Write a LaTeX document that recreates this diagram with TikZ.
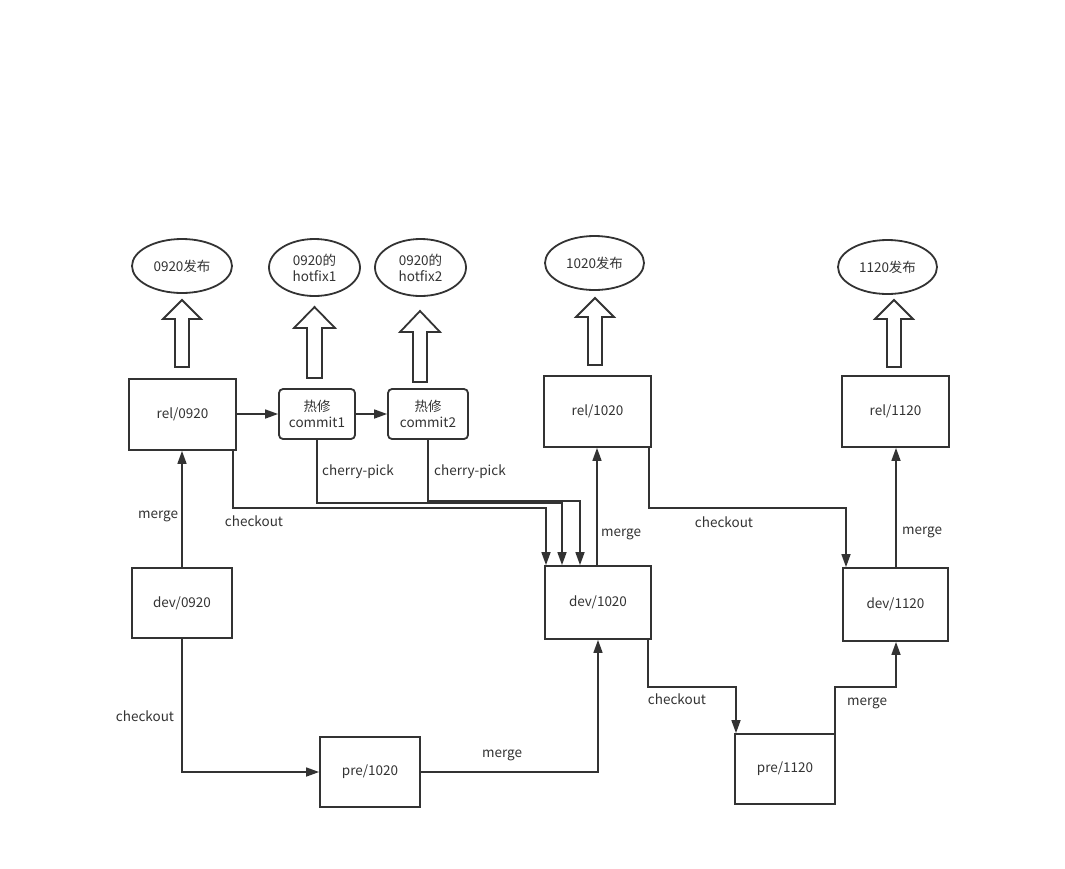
\documentclass[tikz,border=0pt]{standalone}
\usepackage{fontspec}
\setmainfont{Noto Sans CJK SC}
\usetikzlibrary{shapes.geometric,arrows.meta}
\definecolor{ink}{HTML}{333333}
\begin{document}
\begin{tikzpicture}[x=1pt,y=-1pt,
  font=\fontsize{13.5}{16}\selectfont, text=ink,
  box/.style={draw=ink,line width=1.8pt,inner sep=0pt,align=center,fill=white},
  ell/.style={ellipse,draw=ink,line width=1.8pt,inner sep=0pt,align=center},
  conn/.style={draw=ink,line width=1.6pt,-{Triangle[length=13pt,width=9pt]}},
  blk/.style={draw=ink,line width=1.8pt,fill=white,line join=miter},
  lbl/.style={inner sep=0pt,text=ink}]
\fill[white] (0,0) rectangle (1065,868);
\useasboundingbox (0,0) rectangle (1065,868);
% ellipses
\node[ell,minimum width=100,minimum height=54] (e0920) at (182,266) {0920发布};
\node[ell,minimum width=91,minimum height=57] (eh1) at (314.5,267.5) {0920的\\hotfix1};
\node[ell,minimum width=91,minimum height=57] (eh2) at (420.5,267.5) {0920的\\hotfix2};
\node[ell,minimum width=99,minimum height=54] (e1020) at (594.5,263) {1020发布};
\node[ell,minimum width=99,minimum height=54] (e1120) at (887.5,267) {1120发布};
% block arrows
\draw[blk] (175,367)--(175,319)--(163,319)--(182,300)--(201,319)--(189,319)--(189,367)--cycle;
\draw[blk] (307,378)--(307,328)--(294,328)--(314.5,307)--(335,328)--(322,328)--(322,378)--cycle;
\draw[blk] (413,382)--(413,332)--(400,332)--(420,311)--(440,332)--(427,332)--(427,382)--cycle;
\draw[blk] (588,365)--(588,317)--(576,317)--(595,298)--(614,317)--(602,317)--(602,365)--cycle;
\draw[blk] (887,367)--(887,319)--(875,319)--(894,300)--(913,319)--(901,319)--(901,367)--cycle;
% boxes
\node[box,minimum width=107,minimum height=71] (rel0920) at (182.5,414.5) {rel/0920};
\node[box,rounded corners=4pt,minimum width=76,minimum height=50] (c1) at (317,414) {热修\\commit1};
\node[box,rounded corners=4pt,minimum width=80,minimum height=50] (c2) at (428,414) {热修\\commit2};
\node[box,minimum width=107,minimum height=71] (rel1020) at (597.5,411.5) {rel/1020};
\node[box,minimum width=107,minimum height=71] (rel1120) at (895.5,411.5) {rel/1120};
\node[box,minimum width=100,minimum height=70] (dev0920) at (182,603) {dev/0920};
\node[box,minimum width=106,minimum height=73] (dev1020) at (598,602.5) {dev/1020};
\node[box,minimum width=105,minimum height=73] (dev1120) at (895.5,604.5) {dev/1120};
\node[box,minimum width=100,minimum height=70] (pre1020) at (370,772) {pre/1020};
\node[box,minimum width=100,minimum height=70] (pre1120) at (785,769) {pre/1120};
% connectors
\draw[conn] (rel0920.east |- c1.west) -- (c1.west);
\draw[conn] (c1.east) -- (c2.west);
\draw[conn] (182,0 |- dev0920.north) -- (182,0 |- rel0920.south);
\draw[conn] (233,0 |- rel0920.south) -- (233,508) -- (546,508) -- (546,0 |- dev1020.north);
\draw[conn] (c1.south) -- (317,503) -- (562,503) -- (562,0 |- dev1020.north);
\draw[conn] (c2.south) -- (428,501) -- (580,501) -- (580,0 |- dev1020.north);
\draw[conn] (597,0 |- dev1020.north) -- (597,0 |- rel1020.south);
\draw[conn] (649,0 |- rel1020.south) -- (649,508) -- (846,508) -- (846,0 |- dev1120.north);
\draw[conn] (896,0 |- dev1120.north) -- (896,0 |- rel1120.south);
\draw[conn] (182,0 |- dev0920.south) -- (182,0 |- pre1020.west) -- (pre1020.west);
\draw[conn] (pre1020.east) -- (598,0 |- pre1020.east) -- (598,0 |- dev1020.south);
\draw[conn] (648,0 |- dev1020.south) -- (648,687) -- (736,687) -- (736,0 |- pre1120.north);
\draw[conn] (835,0 |- pre1120.north) -- (835,687) -- (896,687) -- (896,0 |- dev1120.south);
% labels
\node[lbl] (l1) at (158,516) {merge};
\node[lbl] (l2) at (254,521) {checkout};
\node[lbl] (l3) at (358,472) {cherry-pick};
\node[lbl] (l4) at (470,472) {cherry-pick};
\node[lbl] (l5) at (621,534) {merge};
\node[lbl] (l6) at (724,522) {checkout};
\node[lbl] (l7) at (922,532) {merge};
\node[lbl] (l8) at (145,716) {checkout};
\node[lbl] (l9) at (502,755) {merge};
\node[lbl] (l10) at (677,699) {checkout};
\node[lbl] (l11) at (867,703) {merge};
\end{tikzpicture}
\end{document}
